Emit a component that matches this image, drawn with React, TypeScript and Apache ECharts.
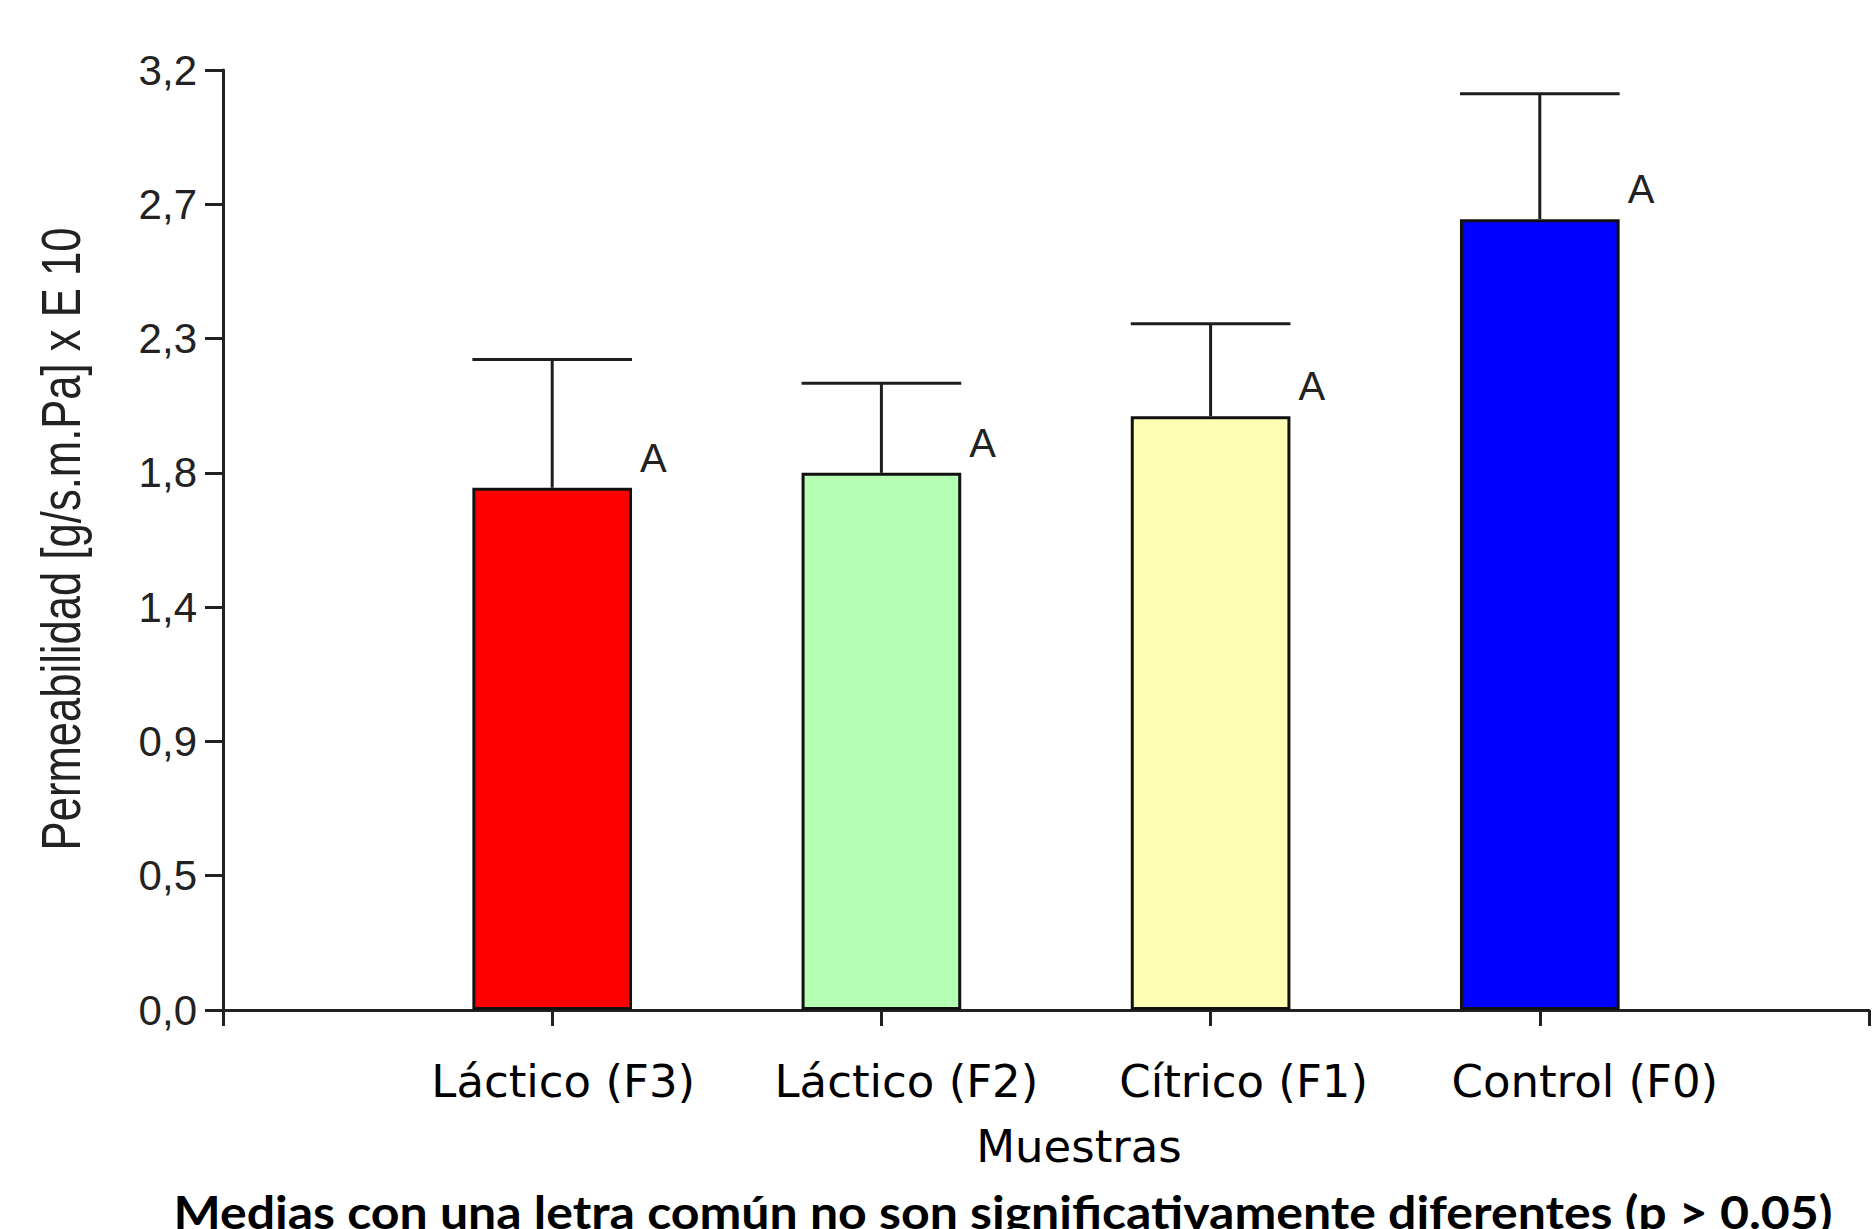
import React, { useEffect, useRef } from "react";
import * as echarts from "echarts";

const categories = ["Láctico (F3)", "Láctico (F2)", "Cítrico (F1)", "Control (F0)"];
const means = [1.75, 1.8, 1.99, 2.65];
const errors = [0.43, 0.3, 0.31, 0.42];
const letters = ["A", "A", "A", "A"];
const barColors = ["#FF0000", "#B4FFB4", "#FFFFB4", "#0000FF"];
const labelShift = [11, 25, 33, 45];
const yTickLabels = ["0,0", "0,5", "0,9", "1,4", "1,8", "2,3", "2,7", "3,2"];
const Y_STEP = 0.45;

const yName = "Permeabilidad [g/s.m.Pa] x E 10";
const xName = "Muestras";
const note = "Medias con una letra común no son significativamente diferentes (p > 0.05)";

const BAR_FRAC = 0.485;

function measure(text: string, font: string): number {
  const c = document.createElement("canvas").getContext("2d");
  if (!c) return 1;
  c.font = font;
  return c.measureText(text).width || 1;
}

export default function App() {
  const ref = useRef<HTMLDivElement>(null);
  useEffect(() => {
    document.body.style.margin = "0";
    if (!ref.current) return;
    const chart = echarts.init(ref.current, null, { renderer: "svg" });
    const axisCats = [
      "",
      ...categories.map((c, i) => ({
        value: c,
        textStyle: { padding: [0, 0, 0, labelShift[i] * 2] },
      })),
      "",
    ];
    const yFont = '55px "Liberation Sans"';
    const yScale = 623 / measure(yName, yFont);
    const noteFont = "bold 46px Lato";
    const noteScale = 1660 / measure(note, noteFont);

    const option: any = {
      animation: false,
      backgroundColor: "#ffffff",
      grid: { left: 223, right: 1, top: 70, bottom: 219, containLabel: false },
      xAxis: {
        type: "category",
        data: axisCats,
        boundaryGap: false,
        name: xName,
        nameLocation: "middle",
        nameGap: 114,
        nameTextStyle: {
          fontFamily: "DejaVu Sans",
          fontSize: 45,
          color: "#000",
          padding: [0, 0, 0, 66],
        },
        axisLine: { show: true, lineStyle: { color: "#222", width: 3 } },
        axisTick: { show: true, interval: 0, length: 16, lineStyle: { color: "#222", width: 3 } },
        axisLabel: {
          interval: 0,
          margin: 49,
          fontFamily: "DejaVu Sans",
          fontSize: 45,
          color: "#000",
        },
        splitLine: { show: false },
      },
      yAxis: {
        type: "value",
        min: 0,
        max: Y_STEP * (yTickLabels.length - 1),
        interval: Y_STEP,
        axisLine: { show: true, lineStyle: { color: "#222", width: 3 } },
        axisTick: { show: true, length: 18, lineStyle: { color: "#222", width: 3 } },
        axisLabel: {
          margin: 26,
          fontFamily: "Liberation Sans",
          fontSize: 42,
          color: "#222",
          formatter: (v: number) => yTickLabels[Math.round(v / Y_STEP)] ?? "",
        },
        splitLine: { show: false },
      },
      graphic: [
        {
          type: "text",
          x: 61,
          y: 539,
          rotation: Math.PI / 2,
          scaleX: yScale,
          style: {
            text: yName,
            font: yFont,
            fill: "#222",
            align: "center",
            verticalAlign: "middle",
          },
        },
        {
          type: "text",
          x: 1003,
          y: 1211,
          scaleX: noteScale,
          style: {
            text: note,
            font: noteFont,
            fill: "#000",
            align: "center",
            verticalAlign: "middle",
          },
        },
      ],
      series: [
        {
          type: "bar",
          barWidth: `${BAR_FRAC * 100}%`,
          data: categories.map((_, i) => ({
            value: [i + 1, means[i]],
            itemStyle: { color: barColors[i], borderColor: "#111", borderWidth: 3 },
          })),
          z: 2,
        },
        {
          type: "custom",
          z: 3,
          data: categories.map((_, i) => [i + 1, means[i], errors[i]]),
          renderItem: (params: any, api: any) => {
            const idx = api.value(0);
            const m = api.value(1);
            const e = api.value(2);
            const top = api.coord([idx, m]);
            const hi = api.coord([idx, m + e]);
            const band = api.size([1, 0])[0];
            const half = (band * BAR_FRAC) / 2;
            const ls = { stroke: "#1e1e1e", lineWidth: 3 };
            return {
              type: "group",
              children: [
                { type: "line", shape: { x1: top[0], y1: top[1], x2: hi[0], y2: hi[1] }, style: ls },
                { type: "line", shape: { x1: hi[0] - half, y1: hi[1], x2: hi[0] + half, y2: hi[1] }, style: ls },
                {
                  type: "text",
                  x: top[0] + half + 8,
                  y: top[1] - 30,
                  style: {
                    text: letters[params.dataIndex],
                    font: '40px "Liberation Sans"',
                    fill: "#222",
                    align: "left",
                    verticalAlign: "middle",
                  },
                },
              ],
            };
          },
        },
      ],
    };
    chart.setOption(option);
    return () => chart.dispose();
  }, []);
  return <div ref={ref} style={{ width: 1872, height: 1229 }} />;
}
